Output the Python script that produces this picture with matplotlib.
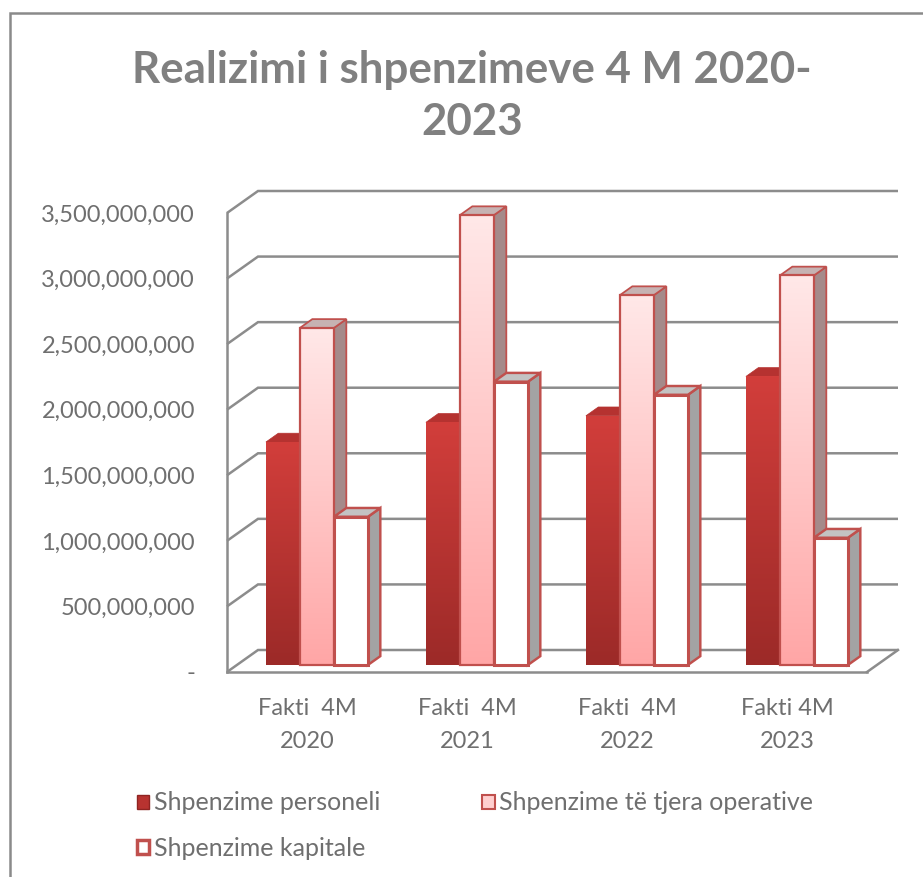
import numpy as np
import matplotlib
matplotlib.use("Agg")
import matplotlib.pyplot as plt
from matplotlib.patches import Polygon, Patch
from matplotlib.lines import Line2D
from matplotlib.colors import LinearSegmentedColormap

# ---------------- data ----------------
categories = ["Fakti  4M\n2020", "Fakti  4M\n2021", "Fakti  4M\n2022", "Fakti 4M\n2023"]
series_names = ["Shpenzime personeli", "Shpenzime të tjera operative", "Shpenzime kapitale"]
personeli = [1.70e9, 1.85e9, 1.90e9, 2.20e9]
operative = [2.57e9, 3.43e9, 2.82e9, 2.97e9]
kapitale = [1.13e9, 2.16e9, 2.06e9, 0.97e9]
y_ticks = [0, 5e8, 1e9, 1.5e9, 2e9, 2.5e9, 3e9, 3.5e9]
y_tick_labels = ["-", "500,000,000", "1,000,000,000", "1,500,000,000",
                 "2,000,000,000", "2,500,000,000", "3,000,000,000", "3,500,000,000"]
title = "Realizimi i shpenzimeve 4 M 2020-\n2023"

# ---------------- style ----------------
FONT = ["Lato", "DejaVu Sans"]
TXT = "#6f6f6f"
TITLE_C = "#808080"
GRID = "#8c8c8c"
RED_EDGE = "#c0504d"

W, H = 923, 877
fig = plt.figure(figsize=(W / 100, H / 100), dpi=100)
fig.patch.set_facecolor("white")

# axes = front plane of the 3D box (pixel layout)
L_px, R_px, B_px, T_px = 227, 867, 672, 213
ax = fig.add_axes([L_px / W, (H - B_px) / H, (R_px - L_px) / W, (B_px - T_px) / H])
ax.set_xlim(-0.5, 3.5)
ax.set_ylim(0, 3.5e9)
ax.patch.set_alpha(0)

xu = 4.0 / (R_px - L_px)           # x data units per pixel
yu = 3.5e9 / (B_px - T_px)         # y data units per pixel
DX, DY = 31 * xu, 22 * yu          # depth offset of the box

# walls / gridlines
for v in y_ticks:
    ax.plot([-0.5, -0.5 + DX, 3.5 + DX], [v, v + DY, v + DY], color=GRID, lw=1.8,
            clip_on=False, zorder=1, solid_joinstyle="miter", solid_capstyle="butt")
ax.plot([3.5, 3.5 + DX], [0, DY], color=GRID, lw=1.8, clip_on=False, zorder=1)

for s in ["top", "right"]:
    ax.spines[s].set_visible(False)
for s in ["left", "bottom"]:
    ax.spines[s].set_color(GRID)
    ax.spines[s].set_linewidth(1.8)

ax.set_yticks(y_ticks)
ax.set_yticklabels(y_tick_labels)
ax.set_xticks(range(len(categories)))
ax.set_xticklabels(categories)
ax.tick_params(axis="y", length=0, pad=23, labelsize=17, labelcolor=TXT)
ax.tick_params(axis="x", length=0, pad=18.5, labelsize=17, labelcolor=TXT)
for lab in ax.get_xticklabels() + ax.get_yticklabels():
    lab.set_family(FONT)
for lab in ax.get_xticklabels():
    lab.set_linespacing(1.7)

# bars
bw = 34 * xu
dbx, dby = 0.32 * DX, 0.32 * DY     # bar front plane offset
ddx, ddy = 0.40 * DX, 0.40 * DY     # bar depth

grad_pers = LinearSegmentedColormap.from_list("p", ["#d23e3b", "#9c2a28"])
grad_oper = LinearSegmentedColormap.from_list("o", ["#ffe8e8", "#ffa6a6"])

series = [personeli, operative, kapitale]
styles = [
    dict(cmap=grad_pers, face=None, edge="none", lw=0, top="#b53230", side="#8a2624"),
    dict(cmap=grad_oper, face=None, edge=RED_EDGE, lw=1.6, top="#c6b2b2", side="#a58a8a"),
    dict(cmap=None, face="white", edge=RED_EDGE, lw=2.2, top="#c3c3c3", side="#a3a3a3"),
]
grad = np.linspace(0, 1, 256).reshape(-1, 1)
z = 3.0
for i in range(len(categories)):
    for j, vals in enumerate(series):
        st = styles[j]
        h = vals[i]
        xl = i + dbx + (j - 1.5) * bw
        yb = dby
        xr = xl + bw
        side = Polygon([(xr, yb), (xr + ddx, yb + ddy), (xr + ddx, yb + h + ddy), (xr, yb + h)],
                       closed=True, facecolor=st["side"], edgecolor=st["edge"] if st["lw"] else st["side"],
                       lw=max(st["lw"] * 0.8, 0.5), clip_on=False, zorder=z, joinstyle="miter")
        ax.add_patch(side)
        top = Polygon([(xl, yb + h), (xl + ddx, yb + h + ddy), (xr + ddx, yb + h + ddy), (xr, yb + h)],
                      closed=True, facecolor=st["top"], edgecolor=st["edge"] if st["lw"] else st["top"],
                      lw=max(st["lw"] * 0.8, 0.5), clip_on=False, zorder=z + 0.001, joinstyle="miter")
        ax.add_patch(top)
        if st["cmap"] is not None:
            bg = ax.bar(xl, h, width=bw, bottom=yb, align="edge", color="none",
                        edgecolor="none", zorder=z + 0.002, clip_on=False)[0]
            im = ax.imshow(grad, cmap=st["cmap"], aspect="auto", extent=[xl, xr, yb, yb + h],
                           zorder=z + 0.003, interpolation="bilinear")
            im.set_clip_path(bg)
            ax.bar(xl, h, width=bw, bottom=yb, align="edge", color="none",
                   edgecolor=st["edge"], linewidth=st["lw"], zorder=z + 0.004, clip_on=False)
        else:
            ax.bar(xl, h, width=bw, bottom=yb, align="edge", color=st["face"],
                   edgecolor=st["edge"], linewidth=st["lw"], zorder=z + 0.004, clip_on=False)
        z += 0.01

ax.set_xlim(-0.5, 3.5)
ax.set_ylim(0, 3.5e9)

# title
fig.text(472 / W, 1 - 96 / H, title, ha="center", va="center", fontsize=31.6, fontweight="bold",
         color=TITLE_C, family=FONT, linespacing=1.38)

# legend
handles = [
    Patch(facecolor="#b83330", edgecolor="#8f2422", lw=1.0),
    Patch(facecolor="white", edgecolor=RED_EDGE, lw=2.5),
    Patch(facecolor="#ffcfcf", edgecolor=RED_EDGE, lw=1.5),
]
labels = [series_names[0], series_names[2], series_names[1]]
leg = fig.legend(handles, labels, loc="upper left", bbox_to_anchor=(124 / W, 1 - 779 / H),
                 ncol=2, frameon=False, handlelength=0.5, handleheight=0.5,
                 handletextpad=0.18, columnspacing=4.1, labelspacing=0.88, borderpad=0,
                 prop={"family": FONT, "size": 18})
for t in leg.get_texts():
    t.set_color(TXT)

# outer chart border (left and top)
fig.add_artist(Line2D([10 / W, 10 / W, 1.0], [0.0, 1 - 13 / H, 1 - 13 / H],
                      transform=fig.transFigure, color="#8a8a8a", lw=1.8,
                      solid_joinstyle="miter"))

fig.savefig("out.png", dpi=100, facecolor="white")
